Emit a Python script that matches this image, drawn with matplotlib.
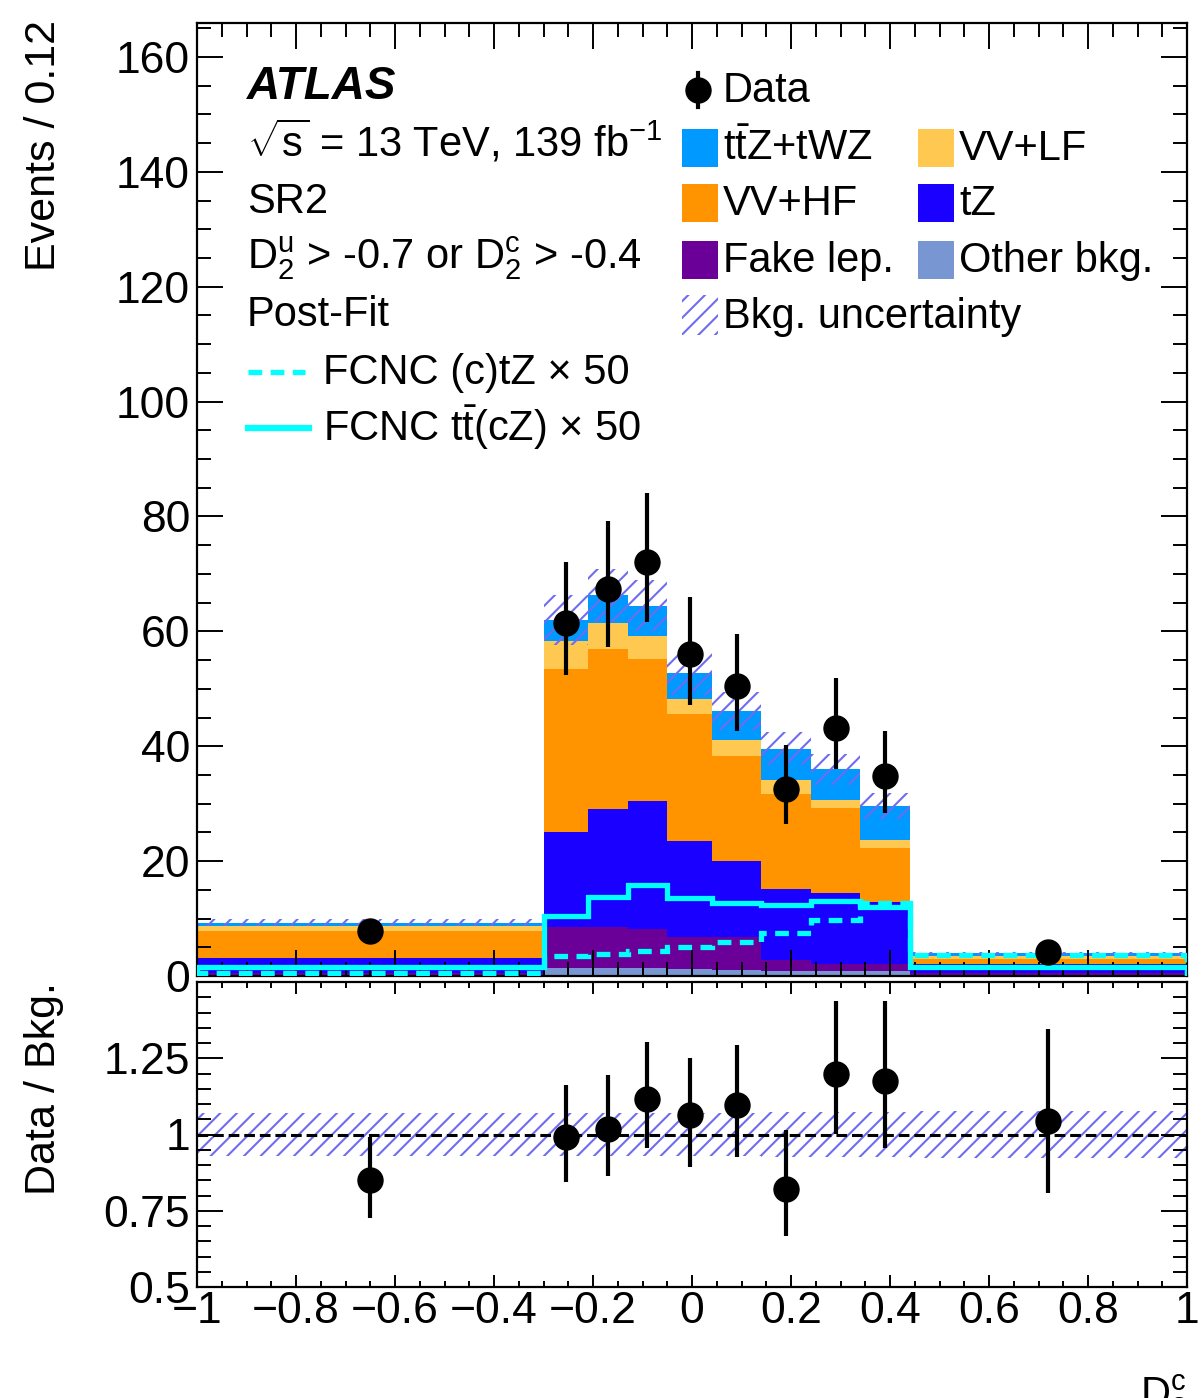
import matplotlib
matplotlib.use("Agg")
import matplotlib.pyplot as plt
from matplotlib.patches import Rectangle
from matplotlib.lines import Line2D
from matplotlib.ticker import MultipleLocator, FixedLocator, FuncFormatter
import numpy as np

plt.rcParams["font.family"] = ["Liberation Sans", "DejaVu Sans"]
plt.rcParams["mathtext.fontset"] = "custom"
plt.rcParams["mathtext.rm"] = "Liberation Sans"
plt.rcParams["mathtext.it"] = "Liberation Sans:italic"
plt.rcParams["mathtext.bf"] = "Liberation Sans:bold"
plt.rcParams["hatch.linewidth"] = 1.5

# Datos
edges = [-1, -0.3, -0.21, -0.13, -0.05, 0.04, 0.14, 0.24, 0.34, 0.44, 1]
other = [0.2, 1.4, 1.4, 1.4, 1.3, 1.0, 0.9, 0.9, 0.9, 0.2]
fake = [0.4, 7.1, 7.1, 6.8, 5.5, 5.8, 1.9, 1.2, 1.2, 0.3]
tz = [2.5, 16.6, 20.5, 22.3, 16.7, 13.3, 12.4, 12.4, 10.8, 1.6]
vv_hf = [4.8, 28.3, 28.0, 24.7, 22.1, 18.2, 16.4, 14.7, 9.3, 0.9]
vv_lf = [0.8, 5.0, 4.4, 4.0, 2.6, 2.8, 2.5, 1.5, 1.5, 0.4]
ttz = [0.6, 3.6, 4.9, 5.3, 4.5, 5.0, 5.5, 5.3, 5.9, 0.55]
bkg_unc = [0.65, 4.3, 4.6, 4.5, 3.7, 3.3, 2.9, 2.7, 2.2, 0.3]
data = [7.9, 61.4, 67.4, 72.0, 56.0, 50.5, 32.5, 43.2, 34.8, 4.13]
data_up = [1.32, 10.6, 11.9, 12.1, 9.9, 9.1, 7.7, 8.6, 7.8, 1.19]
data_dn = [1.16, 9.0, 10.2, 10.4, 8.9, 7.8, 6.1, 7.1, 6.5, 0.94]
fcnc_ctz = [0.6, 3.4, 3.9, 4.4, 5.1, 5.9, 7.4, 9.7, 12.7, 3.7]
fcnc_ttcz = [1.5, 10.5, 13.7, 15.8, 13.6, 12.7, 12.3, 13.0, 12.0, 1.5]

stack = [other, fake, tz, vv_hf, vv_lf, ttz]
colors = ["#7896d2", "#6b0099", "#1a00ff", "#ff9400", "#ffc850", "#0099ff"]
hatch_color = "#6f6cf0"

W, H = 1204, 1398


def fx(px):
    return px / W


def fy(py):
    return 1 - py / H


fig = plt.figure(figsize=(W / 100, H / 100), dpi=100)
ax = fig.add_axes([fx(197), fy(976), fx(1187) - fx(197), (976 - 22.5) / H])
axr = fig.add_axes([fx(197), fy(1287), fx(1187) - fx(197), (1287 - 982) / H])

edges_a = np.array(edges)
centers = 0.5 * (edges_a[1:] + edges_a[:-1])
bottom = np.zeros(len(data))
for vals, c in zip(stack, colors):
    top = bottom + np.array(vals)
    ax.stairs(top, edges, baseline=bottom, fill=True, color=c, lw=0)
    bottom = top
bkg = bottom
unc = np.array(bkg_unc)

# Banda de incertidumbre
ax.stairs(bkg + unc, edges, baseline=bkg - unc, fill=True,
          facecolor="none", edgecolor=hatch_color, hatch="//", lw=0)

# Señales FCNC
ax.stairs(fcnc_ttcz, edges, color="#00ffff", lw=3.8, zorder=4)
ax.stairs(fcnc_ctz, edges, color="#00ffff", lw=3.8, ls=(0, (2.6, 1.6)),
          zorder=4)

ax.errorbar(centers, data, yerr=[data_dn, data_up], fmt="o", color="k",
            ms=18, elinewidth=3, capsize=0, zorder=6)

ax.set_xlim(-1, 1)
ax.set_ylim(0, 166)

# Panel de cociente
ratio = np.array(data) / bkg
axr.stairs(1 + unc / bkg, edges, baseline=1 - unc / bkg, fill=True,
           facecolor="none", edgecolor=hatch_color, hatch="//", lw=0)
axr.axhline(1, color="k", lw=2.2, ls=(0, (3.5, 1.6)), zorder=3)
axr.errorbar(centers, ratio,
             yerr=[np.array(data_dn) / bkg, np.array(data_up) / bkg],
             fmt="o", color="k", ms=18, elinewidth=3, capsize=0, zorder=6)
axr.set_xlim(-1, 1)
axr.set_ylim(0.5, 1.5)


def fmt(v, pos):
    return f"{round(v, 2) + 0.0:g}".replace("-", "\u2212")


for a in (ax, axr):
    for s in a.spines.values():
        s.set_linewidth(1.6)
    a.xaxis.set_major_locator(MultipleLocator(0.2))
    a.xaxis.set_minor_locator(MultipleLocator(0.05))
    a.tick_params(which="both", direction="in", top=True, right=True,
                  width=1.4, labelsize=32, pad=5)
ax.yaxis.set_major_locator(MultipleLocator(20))
ax.yaxis.set_minor_locator(MultipleLocator(5))
ax.yaxis.set_major_formatter(FuncFormatter(fmt))
ax.tick_params(which="major", length=19)
ax.tick_params(which="minor", length=10)
ax.tick_params(axis="x", labelbottom=False)

axr.yaxis.set_major_locator(FixedLocator([0.5, 0.75, 1.0, 1.25]))
axr.yaxis.set_minor_locator(MultipleLocator(0.05))
axr.yaxis.set_major_formatter(FuncFormatter(fmt))
axr.xaxis.set_major_formatter(FuncFormatter(fmt))
axr.tick_params(axis="y", which="major", length=19)
axr.tick_params(axis="y", which="minor", length=10)
axr.tick_params(axis="x", which="major", length=8.6, pad=3)
axr.tick_params(axis="x", which="minor", length=4.5)

# Textos
fs = 30
fig.text(fx(44), fy(20), "Events / 0.12", rotation=90, ha="center",
         va="top", fontsize=31)
fig.text(fx(44), fy(982), "Data / Bkg.", rotation=90, ha="center",
         va="top", fontsize=31)
fig.text(fx(1187), fy(1372), r"D$^{\mathrm{c}}_{2}$", ha="right", va="top",
         fontsize=fs)

fig.text(fx(247), fy(99), "ATLAS", fontsize=33, fontweight="bold",
         fontstyle="italic", va="baseline")
fig.text(fx(247), fy(157), r"$\sqrt{\mathrm{s}}$ = 13 TeV, 139 fb$^{\mathrm{-1}}$",
         fontsize=fs, va="baseline")
fig.text(fx(247), fy(213), "SR2", fontsize=fs, va="baseline")
fig.text(fx(247), fy(269),
         r"D$^{\mathrm{u}}_{2}$ > -0.7 or D$^{\mathrm{c}}_{2}$ > -0.4",
         fontsize=fs, va="baseline")
fig.text(fx(247), fy(326), "Post-Fit", fontsize=fs, va="baseline")

# Leyenda FCNC
fig.add_artist(Line2D([fx(248), fx(305)], [fy(372), fy(372)], color="#00ffff",
                      lw=3.8, ls=(0, (2.6, 1.6))))
fig.add_artist(Line2D([fx(248), fx(309)], [fy(428), fy(428)], color="#00ffff",
                      lw=4.5))
fig.text(fx(323), fy(384), "FCNC (c)tZ \u00d7 50", fontsize=fs, va="baseline")
fig.text(fx(323), fy(441), r"FCNC t$\bar{\mathrm{t}}$(cZ) $\times$ 50",
         fontsize=fs, va="baseline")

# Leyenda de fondos
fig.add_artist(Line2D([fx(698), fx(698)], [fy(73), fy(107)], color="k", lw=3))
fig.add_artist(Line2D([fx(698)], [fy(90)], color="k", marker="o", ms=18,
                      ls="none"))
fig.text(fx(723), fy(102), "Data", fontsize=fs, va="baseline")

entries = [
    (682, 148, colors[5], r"t$\bar{\mathrm{t}}$Z+tWZ"),
    (682, 203, colors[3], "VV+HF"),
    (682, 260, colors[1], "Fake lep."),
    (918, 148, colors[4], "VV+LF"),
    (918, 203, colors[2], "tZ"),
    (918, 260, colors[0], "Other bkg."),
]
for x0, yc, c, lab in entries:
    fig.add_artist(Rectangle((fx(x0), fy(yc + 19)), 36 / W, 38 / H,
                             transform=fig.transFigure, color=c, lw=0))
    fig.text(fx(x0 + 41), fy(yc + 12), lab, fontsize=fs, va="baseline")
fig.add_artist(Rectangle((fx(682), fy(335)), 36 / W, 40 / H,
                         transform=fig.transFigure, facecolor="none",
                         edgecolor=hatch_color, hatch="//", lw=0))
fig.text(fx(723), fy(328), "Bkg. uncertainty", fontsize=fs, va="baseline")

fig.savefig("out.png", dpi=100)
